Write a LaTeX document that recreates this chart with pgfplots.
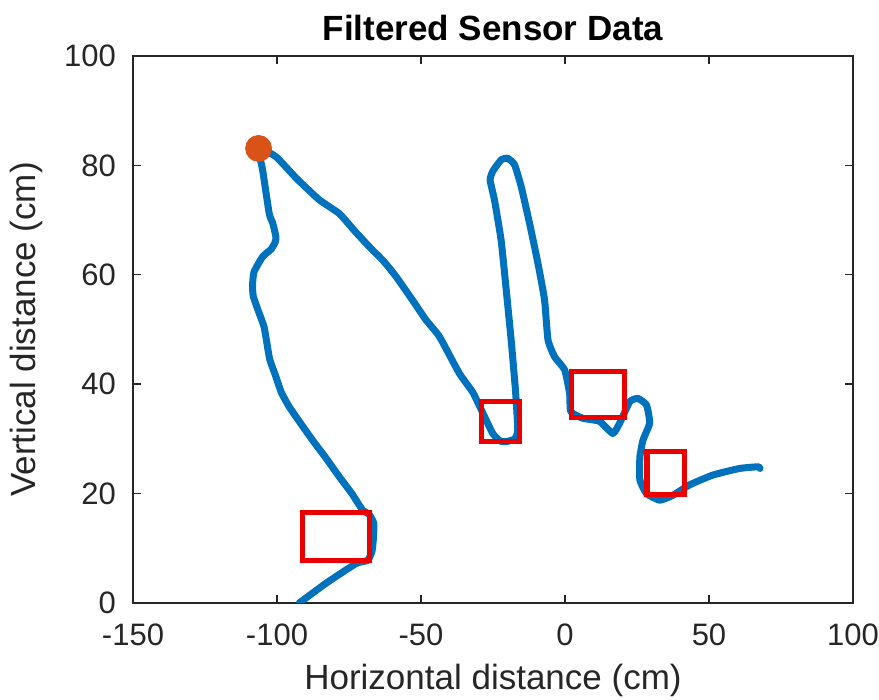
\documentclass[border=0pt]{standalone}
\usepackage{fontspec}
\setmainfont{Liberation Sans}
\usepackage{pgfplots}
\pgfplotsset{compat=1.18}
\usetikzlibrary{calc}
\definecolor{mblue}{RGB}{0,114,189}
\definecolor{morange}{RGB}{217,83,25}
\definecolor{mred}{RGB}{235,0,0}
\definecolor{tickgray}{RGB}{38,38,38}
\begin{document}
\begin{tikzpicture}
\begin{axis}[name=ax, scale only axis, width=360bp, height=273.5bp,
  xmin=-150, xmax=100, ymin=0, ymax=100,
  xtick={-150,-100,-50,0,50,100}, ytick={0,20,40,60,80,100},
  /pgf/number format/assume math mode=true,
  tick label style={font=\fontsize{15.5bp}{18bp}\selectfont, text=tickgray},
  xticklabel style={yshift=-7bp},
  yticklabel style={xshift=-5bp},
  label style={font=\fontsize{17.5bp}{21bp}\selectfont, text=tickgray},
  xlabel style={yshift=-2bp},
  ylabel style={yshift=4bp},
  title style={font=\fontsize{17.5bp}{21bp}\selectfont\bfseries, yshift=-2bp},
  title={Filtered Sensor Data},
  xlabel={Horizontal distance (cm)},
  ylabel={Vertical distance (cm)},
  axis line style={tickgray, line width=0.7bp},
  tick style={tickgray, line width=0.7bp},
  major tick length=4bp,
]
\addplot[mblue, line width=3.5bp, line join=round, line cap=round, smooth, tension=0.3] coordinates {
(-92.3,0) (-83,3.6) (-72.6,7.2) (-68.5,7.8) (-67,9.5) (-66.5,12) (-66.4,14.6)
(-68,16.2) (-70.3,17) (-74,20) (-78.4,23.1) (-83,26.5) (-87.7,29.8) (-92,33)
(-95.8,35.9) (-98.5,38.5) (-100.4,41.4) (-102.5,44.5) (-103.5,47.5) (-104.5,50.5)
(-106.2,53) (-108.2,56) (-108.5,58) (-108,60.5) (-105,63.3) (-102,64.7) (-100.6,66)
(-100.4,67) (-101.5,69.5) (-102.7,71.2) (-105,79.2) (-106.4,83.1)
(-100.4,81.6) (-93,77.5) (-85.3,73.7) (-78.4,71.2) (-73,68) (-67.9,65.1)
(-63,62.5) (-58.7,59.7) (-53.5,55.8) (-48.2,51.7) (-43.6,48.7) (-36.7,42)
(-32,38.5) (-28.5,34.7) (-25.1,31) (-22.5,29.6) (-20.4,29.5) (-17.5,30)
(-16.4,31.6) (-17.2,38.9) (-18.7,48.1) (-20.4,57.2) (-22.2,66.4) (-24.5,73.7)
(-26,77.3) (-25.1,78.9) (-22.2,81) (-19.9,81.3) (-17.5,80.1) (-15.2,76.1)
(-12.3,69.4) (-9.4,62.1) (-7.1,55.4) (-5.9,48.1) (-3.6,45) (-0.1,42.6)
(1.6,38.3) (2,35) (6,33.8) (12,33.2) (16.6,31) (19,32.9) (22.5,36.8)
(25.3,37.4) (28.3,36.2) (29.4,32.9) (27.1,29.8) (26,26.7) (26,22.5)
(28.3,20) (32.9,18.8) (37.5,19.7) (43.3,21.6) (51.4,23.4) (60.7,24.6)
(67.1,24.9) (67.7,24.6)
};
\addplot[mred, line width=2.6bp, line join=miter] coordinates {(-91.2,7.7) (-67.9,7.7) (-67.9,16.5) (-91.2,16.5)} --cycle;
\addplot[mred, line width=2.6bp, line join=miter] coordinates {(-29.1,29.5) (-15.8,29.5) (-15.8,36.8) (-29.1,36.8)} --cycle;
\addplot[mred, line width=2.6bp, line join=miter] coordinates {(2.2,33.9) (20.7,33.9) (20.7,42.3) (2.2,42.3)} --cycle;
\addplot[mred, line width=2.6bp, line join=miter] coordinates {(28.5,19.9) (41.6,19.9) (41.6,27.7) (28.5,27.7)} --cycle;
\addplot[only marks, mark=*, mark size=6.5bp, mark options={fill=morange, draw=morange}] coordinates {(-106.4,83.1)};
\end{axis}
\pgfresetboundingbox
\path ($(ax.south west)+(-66.5bp,-48.5bp)$) rectangle ($(ax.north east)+(13bp,28bp)$);
\end{tikzpicture}
\end{document}
